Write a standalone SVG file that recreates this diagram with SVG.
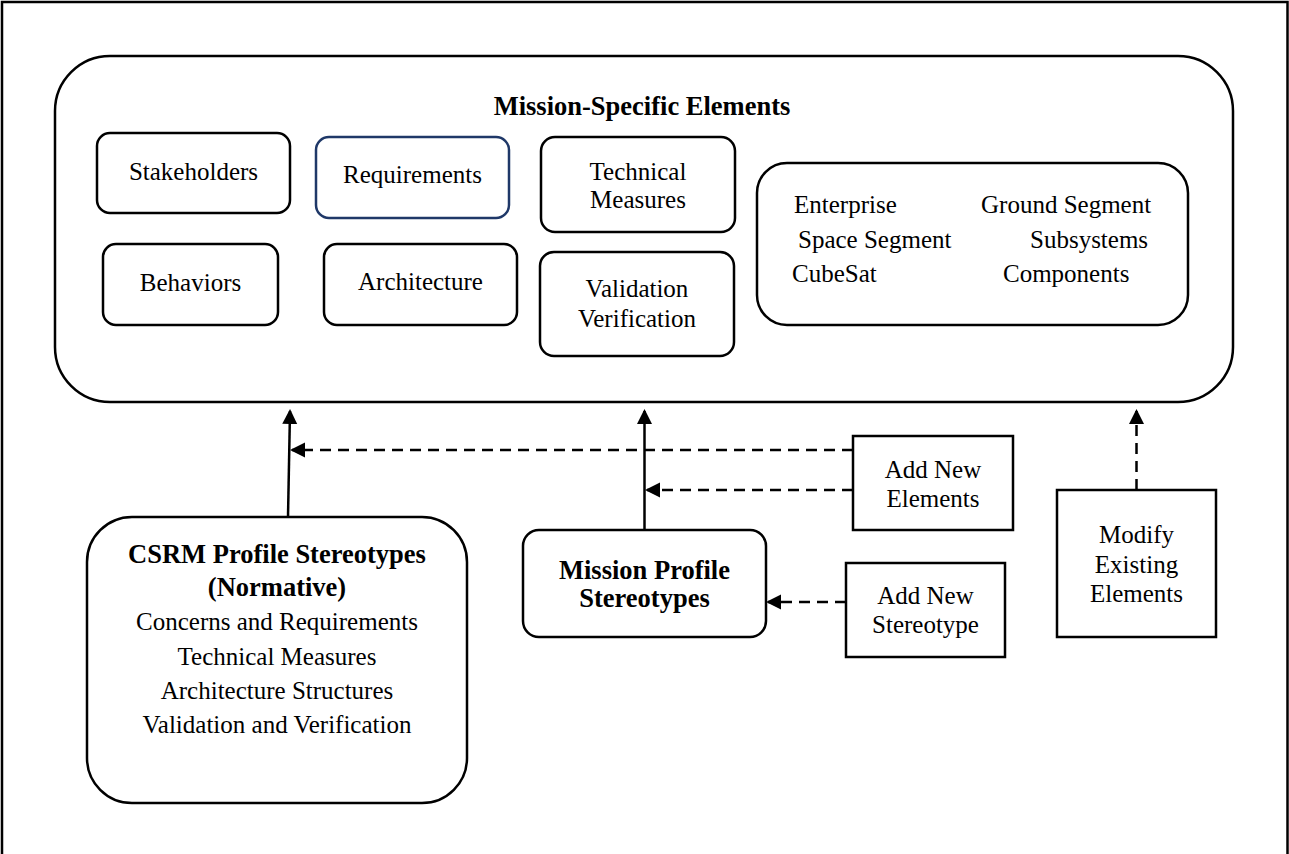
<svg xmlns="http://www.w3.org/2000/svg" width="1289" height="854" viewBox="0 0 1289 854">
<style>
.box{fill:#fff;stroke:#000;stroke-width:2.5}
.t{font-family:"Liberation Serif","Times New Roman",serif;font-size:25px;fill:#000}
.c{text-anchor:middle}
.b{font-weight:bold;font-size:26.5px}
.conn{stroke:#000;stroke-width:2.5;fill:none}
.dash{stroke-dasharray:11 7}
</style>
<defs>
<marker id="ah" markerWidth="16" markerHeight="16" refX="13" refY="7.5" orient="auto" markerUnits="userSpaceOnUse">
<path d="M0,0 L15,7.5 L0,15 z" fill="#000"/>
</marker>
</defs>
<rect x="2" y="2" width="1285.5" height="870" fill="#fff" stroke="#000" stroke-width="2.5"/>

<g id="mission-specific">
<rect class="box" x="55" y="56" width="1178" height="346" rx="55" ry="55"/>
<text class="t c b" x="642" y="115">Mission-Specific Elements</text>
</g>
<g id="stakeholders">
<rect class="box" x="97" y="133" width="193" height="80" rx="13"/>
<text class="t c" x="193.5" y="180">Stakeholders</text>
</g>
<g id="requirements">
<rect class="box" x="316" y="137" width="193" height="81" rx="13" style="stroke:#1f3868"/>
<text class="t c" x="412.5" y="183">Requirements</text>
</g>
<g id="technical-measures">
<rect class="box" x="541" y="137" width="194" height="95" rx="14"/>
<text class="t c" x="638" y="180">Technical</text>
<text class="t c" x="638" y="208">Measures</text>
</g>
<g id="behaviors">
<rect class="box" x="103" y="244" width="175" height="81" rx="13"/>
<text class="t c" x="190.5" y="291">Behaviors</text>
</g>
<g id="architecture">
<rect class="box" x="324" y="244" width="193" height="81" rx="13"/>
<text class="t c" x="420.5" y="290">Architecture</text>
</g>
<g id="validation-verification">
<rect class="box" x="540" y="252" width="194" height="104" rx="14"/>
<text class="t c" x="637" y="297">Validation</text>
<text class="t c" x="637" y="327">Verification</text>
</g>
<g id="segments">
<rect class="box" x="757" y="163" width="431" height="162" rx="30"/>
<text class="t" x="794" y="213">Enterprise</text>
<text class="t" x="981" y="213">Ground Segment</text>
<text class="t" x="798" y="248">Space Segment</text>
<text class="t" x="1030" y="248">Subsystems</text>
<text class="t" x="792" y="282">CubeSat</text>
<text class="t" x="1003" y="282">Components</text>
</g>

<g id="csrm-profile">
<rect class="box" x="87" y="517" width="380" height="286" rx="45"/>
<text class="t c b" x="277" y="563">CSRM Profile Stereotypes</text>
<text class="t c b" x="277" y="596">(Normative)</text>
<text class="t c" x="277" y="630">Concerns and Requirements</text>
<text class="t c" x="277" y="665">Technical Measures</text>
<text class="t c" x="277" y="699">Architecture Structures</text>
<text class="t c" x="277" y="733">Validation and Verification</text>
</g>
<g id="mission-profile">
<rect class="box" x="523" y="530" width="243" height="107" rx="16"/>
<text class="t c b" x="644.5" y="579">Mission Profile</text>
<text class="t c b" x="644.5" y="607">Stereotypes</text>
</g>
<g id="add-new-elements">
<rect class="box" x="853" y="436" width="160" height="94"/>
<text class="t c" x="933" y="478">Add New</text>
<text class="t c" x="933" y="507">Elements</text>
</g>
<g id="add-new-stereotype">
<rect class="box" x="846" y="563" width="159" height="94"/>
<text class="t c" x="925.5" y="604">Add New</text>
<text class="t c" x="925.5" y="633">Stereotype</text>
</g>
<g id="modify-existing">
<rect class="box" x="1057" y="490" width="159" height="147"/>
<text class="t c" x="1136.5" y="543">Modify</text>
<text class="t c" x="1136.5" y="573">Existing</text>
<text class="t c" x="1136.5" y="602">Elements</text>
</g>

<g id="connectors">
<line class="conn" x1="288" y1="517" x2="290" y2="411" marker-end="url(#ah)"/>
<line class="conn" x1="644.5" y1="530" x2="644.5" y2="411" marker-end="url(#ah)"/>
<line class="conn dash" x1="853" y1="450" x2="292" y2="450" marker-end="url(#ah)"/>
<line class="conn dash" x1="853" y1="490" x2="647" y2="490" marker-end="url(#ah)"/>
<line class="conn dash" x1="846" y1="602" x2="768" y2="602" marker-end="url(#ah)"/>
<line class="conn dash" x1="1136.5" y1="490" x2="1136.5" y2="411" marker-end="url(#ah)"/>
</g>
</svg>
